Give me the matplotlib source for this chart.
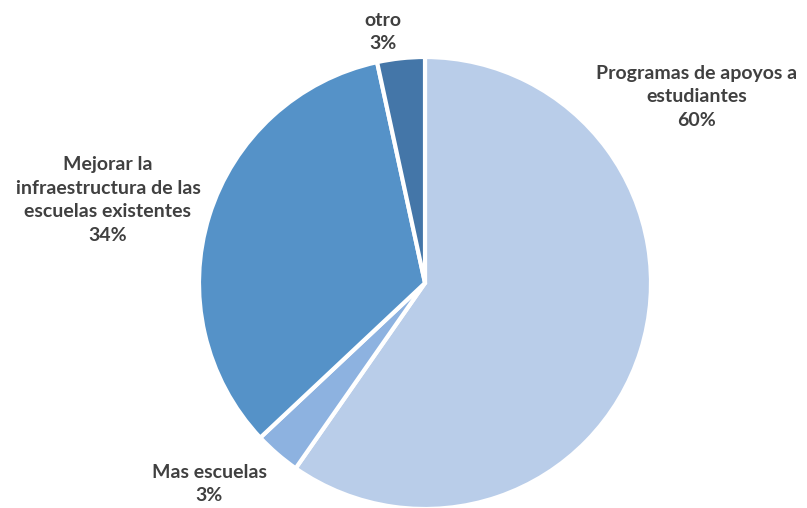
import matplotlib
matplotlib.use("Agg")
import matplotlib.pyplot as plt

categories = ["Programas de apoyos a\nestudiantes", "Mas escuelas",
              "Mejorar la\ninfraestructura de las\nescuelas existentes", "otro"]
values = [59.7, 3.3, 33.6, 3.4]
colors = ["#B9CDE9", "#8DB2E0", "#5592C8", "#4476A8"]

W, H = 807, 508
fig = plt.figure(figsize=(W / 100, H / 100), dpi=100)
ax = fig.add_axes([0, 0, 1, 1])

cx, cy, r = 425, H - 283, 226
ax.pie(values, colors=colors, startangle=90, counterclock=False,
       center=(cx, cy), radius=r, frame=True,
       wedgeprops=dict(edgecolor="white", linewidth=3))
ax.set_xlim(0, W)
ax.set_ylim(0, H)
ax.set_aspect("equal")
ax.axis("off")

label_pos = [(697, 97), (209, 484), (108, 200), (383, 32)]
for cat, v, (x, y) in zip(categories, values, label_pos):
    ax.text(x, H - y, f"{cat}\n{round(v)}%", ha="center", va="center",
            fontsize=14, fontweight="bold", color="#404040",
            family="Lato", linespacing=1.48)

fig.savefig("out.png", dpi=100)
